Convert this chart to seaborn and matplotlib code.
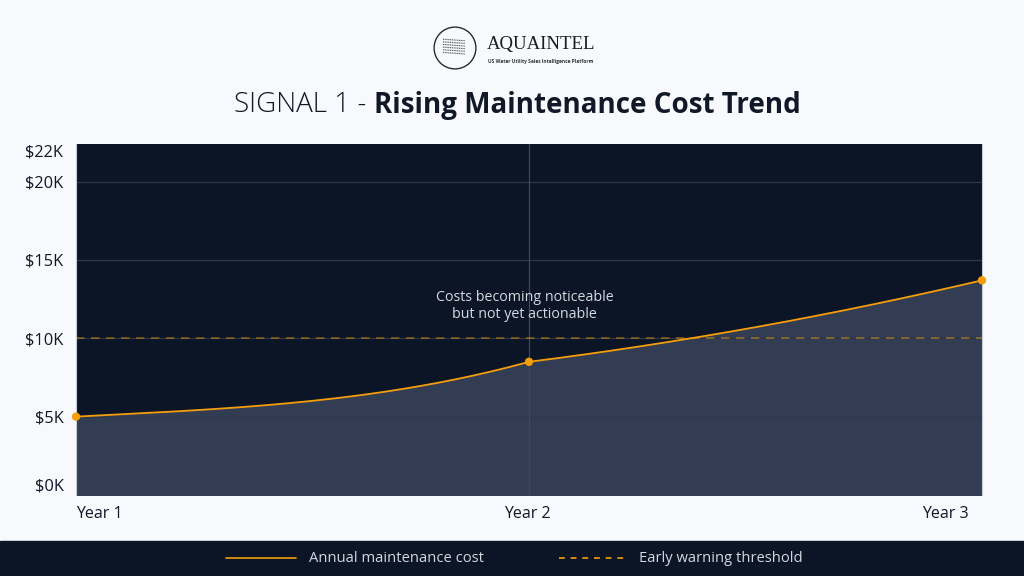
import numpy as np
import pandas as pd
import matplotlib
matplotlib.use("Agg")
import matplotlib.pyplot as plt
from matplotlib.patches import Circle, Rectangle
from matplotlib.lines import Line2D
import matplotlib.transforms as mtransforms
import seaborn as sns

# ---------------- data ----------------
years = ["Year 1", "Year 2", "Year 3"]
costs = [5000, 8500, 13700]
threshold = 10000
y_ticks = [0, 5000, 10000, 15000, 20000, 22000]
y_tick_labels = ["$0K", "$5K", "$10K", "$15K", "$20K", "$22K"]
annotation = "Costs becoming noticeable\nbut not yet actionable"
legend_labels = ["Annual maintenance cost", "Early warning threshold"]

# ---------------- style ----------------
BG = "#f7f9fc"
PLOT_BG = "#0b1526"
FILL = "#323d53"
ORANGE = "#f59e0b"
GRID = "#2c3749"
TXT = "#111827"
LIGHT = "#d4d8df"

sns.set_theme(style="white")
plt.rcParams["font.family"] = ["Open Sans", "DejaVu Sans"]

fig = plt.figure(figsize=(10.24, 5.76), dpi=100, facecolor=BG)
ax = fig.add_axes([76 / 1024, 1 - 495 / 576, (982 - 76) / 1024, (495 - 144) / 576])
ax.set_facecolor(PLOT_BG)

# smooth rendering of the line between the data points (per-segment Hermite,
# tangents expressed relative to each segment's rise)
tangents = [(0.43, 2.27), (0.7, 1.3)]
xs, ys = [], []
for i in range(len(costs) - 1):
    t = np.linspace(0, 1, 80)
    m0, m1 = tangents[i]
    h10 = t**3 - 2 * t**2 + t
    h01 = -2 * t**3 + 3 * t**2
    h11 = t**3 - t**2
    f = h01 + h10 * m0 + h11 * m1
    xs.extend(i + t)
    ys.extend(costs[i] + (costs[i + 1] - costs[i]) * f)
curve = pd.DataFrame({"x": xs, "y": ys})
pts = pd.DataFrame({"x": np.arange(len(years)), "y": costs})

ax.fill_between(curve["x"], 0, curve["y"], color=FILL, zorder=1)
for yv in y_ticks[:-1]:
    ax.axhline(yv, color=GRID, lw=0.9, zorder=1.5)
ax.axvline(1, color="#3d4859", lw=0.9, zorder=1.5)
ax.axhline(threshold, color=ORANGE, alpha=0.5, lw=1.2, ls=(0, (5, 4)), zorder=2)

sns.lineplot(data=curve, x="x", y="y", ax=ax, color=ORANGE, lw=1.3, zorder=3,
             estimator=None, sort=False)
sns.scatterplot(data=pts, x="x", y="y", ax=ax, color=ORANGE, s=36,
                edgecolor="none", zorder=4, clip_on=False)

ax.set_xlim(0, 2)
ax.set_ylim(0, 22400)
ax.set_xlabel("")
ax.set_ylabel("")
ax.set_yticks(y_ticks)
ax.set_yticklabels(y_tick_labels, fontsize=11.8, color=TXT)
ax.set_xticks(range(len(years)))
ax.set_xticklabels([])
ax.tick_params(axis="both", length=0)
ax.tick_params(axis="y", pad=9)
ax.get_yticklabels()[0].set_va("bottom")

# x category labels
xtrans = mtransforms.blended_transform_factory(ax.transData, ax.transAxes)
x_offsets = [0, -2, -13]
x_has = ["left", "center", "right"]
for i, lab in enumerate(years):
    tr = xtrans + mtransforms.ScaledTranslation(x_offsets[i] / 100, 0, fig.dpi_scale_trans)
    ax.text(i, -0.055, lab, transform=tr, ha=x_has[i], va="center",
            fontsize=11.5, color=TXT)

for s in ["top", "bottom"]:
    ax.spines[s].set_visible(False)
for s in ["left", "right"]:
    ax.spines[s].set_color("#c5cbd4")
    ax.spines[s].set_linewidth(0.8)

ax.text(0.99, 12080, annotation, ha="center", va="center", fontsize=10.3,
        color=LIGHT, linespacing=1.2, zorder=5)

# ---------------- title ----------------
t1 = fig.text(0.5, 1 - 105 / 576, "SIGNAL 1 - ", fontsize=20, color=TXT,
              fontweight="light", ha="left", va="center")
t2 = fig.text(0.5, 1 - 105 / 576, "Rising Maintenance Cost Trend", fontsize=20,
              color=TXT, fontweight="bold", ha="left", va="center")
fig.canvas.draw()
r = fig.canvas.get_renderer()
w1 = t1.get_window_extent(r).width / 1024
w2 = t2.get_window_extent(r).width / 1024
start = 0.5 - (w1 + w2) / 2 + 0.005
t1.set_x(start)
t2.set_x(start + w1)

# ---------------- logo ----------------
logo_ax = fig.add_axes([433 / 1024, 1 - 71 / 576, 44 / 1024, 46 / 576])
logo_ax.set_xlim(-1, 1)
logo_ax.set_ylim(-1, 1)
logo_ax.set_aspect("equal")
logo_ax.axis("off")
logo_ax.add_patch(Circle((0, 0), 0.95, fill=False, ec="#2b2b2b", lw=1.0))
for k in range(6):
    yy = 0.35 - k * 0.12
    logo_ax.plot([-0.55, 0.45], [yy + 0.05, yy - 0.02], color="#555555", lw=0.8,
                 ls=(0, (1, 0.6)))
fig.text(487 / 1024, 1 - 45 / 576, "AQUAINTEL", fontsize=13.5,
         family=["Liberation Serif", "DejaVu Serif"], color="#1c1c1c",
         ha="left", va="center")
fig.text(488 / 1024, 1 - 61 / 576, "US Water Utility Sales Intelligence Platform",
         fontsize=3.5, color="#333333", ha="left", va="center", fontweight="bold")

# ---------------- legend band ----------------
fig.patches.append(Rectangle((0, 0), 1, 35 / 576, transform=fig.transFigure,
                             color=PLOT_BG, zorder=0))
ly = 1 - 558 / 576
fig.lines.append(Line2D([226 / 1024, 296 / 1024], [ly, ly], transform=fig.transFigure,
                        color=ORANGE, lw=1.2))
fig.text(309 / 1024, ly, legend_labels[0], fontsize=10.6, color=LIGHT,
         ha="left", va="center")
fig.lines.append(Line2D([559 / 1024, 629 / 1024], [ly, ly], transform=fig.transFigure,
                        color=ORANGE, lw=1.2, ls=(0, (3.5, 3.5))))
fig.text(639 / 1024, ly, legend_labels[1], fontsize=10.6, color=LIGHT,
         ha="left", va="center")

fig.savefig("out.png", dpi=100, facecolor=BG)
